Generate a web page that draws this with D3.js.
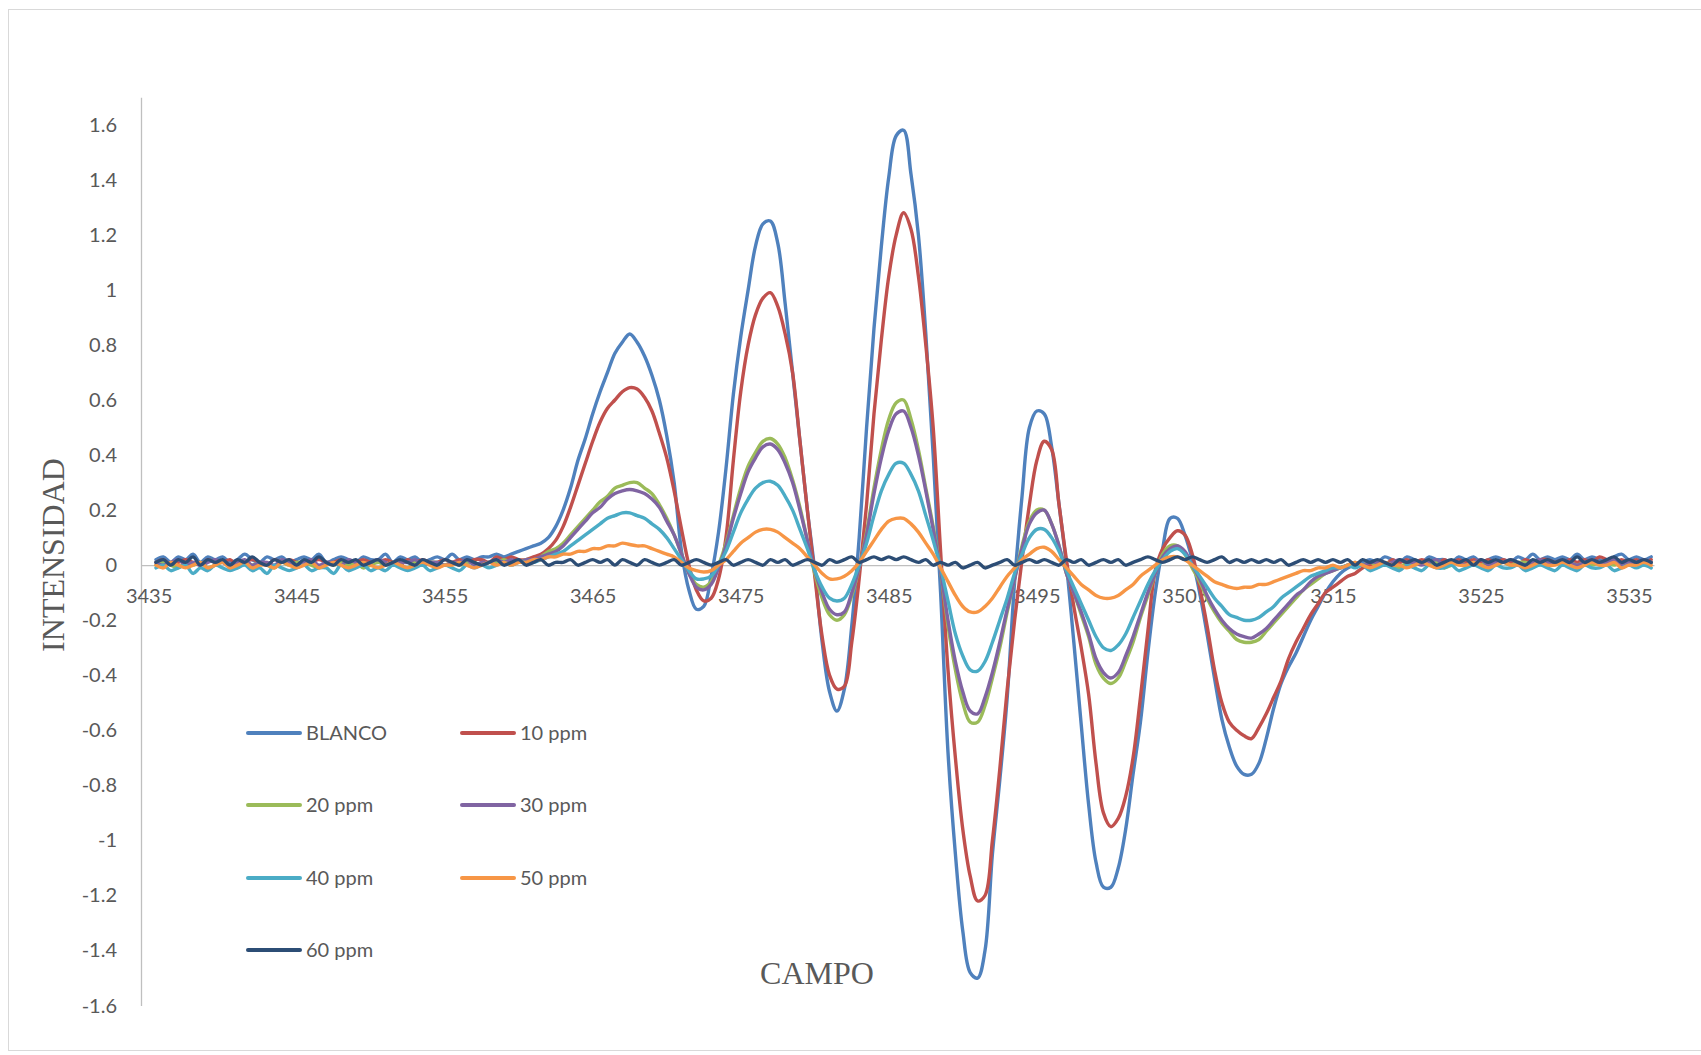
<!DOCTYPE html>
<html><head><meta charset="utf-8">
<script src="https://cdn.jsdelivr.net/npm/d3@7"></script>
<style>body{margin:0;background:#fff}svg{display:block}</style>
</head><body><svg id="c" width="1701" height="1055"></svg>
<script>
// Field grid (G): 3435.5 .. 3536.5 in 0.5 steps, 10 values per row below
const field = d3.range(3435.5, 3536.75, 0.5);
const xTicks = [3435, 3445, 3455, 3465, 3475, 3485, 3495, 3505, 3515, 3525, 3535];
const yTicks = [-1.6, -1.4, -1.2, -1, -0.8, -0.6, -0.4, -0.2, 0, 0.2, 0.4, 0.6, 0.8, 1, 1.2, 1.4, 1.6];
const seriesNames = ["BLANCO", "10 ppm", "20 ppm", "30 ppm", "40 ppm", "50 ppm", "60 ppm"];
const seriesColors = ["#4F81BD", "#C0504D", "#9BBB59", "#8064A2", "#4BACC6", "#F79646", "#2C4D75"];

const blanco = [
 0.02,0.03,0.01,0.03,0.02,0.04,0.01,0.03,0.02,0.03,
 0.01,0.02,0.04,0.02,0.01,0.03,0.02,0.03,0.01,0.02,
 0.03,0.02,0.04,0.01,0.02,0.03,0.02,0.01,0.03,0.02,
 0.02,0.04,0.01,0.03,0.02,0.03,0.01,0.02,0.03,0.02,
 0.04,0.02,0.03,0.02,0.03,0.03,0.04,0.03,0.04,0.05,
 0.06,0.07,0.08,0.10,0.14,0.20,0.28,0.38,0.46,0.55,
 0.63,0.70,0.77,0.81,0.84,0.81,0.76,0.69,0.60,0.47,
 0.30,0.05,-0.09,-0.16,-0.15,-0.04,0.12,0.35,0.62,0.83,
 1.00,1.16,1.24,1.25,1.17,0.95,0.70,0.45,0.20,-0.02,
 -0.28,-0.46,-0.53,-0.45,-0.22,0.10,0.50,0.86,1.16,1.41,
 1.56,1.58,1.42,1.20,0.84,0.40,-0.10,-0.68,-1.05,-1.33,
 -1.48,-1.50,-1.40,-1.05,-0.78,-0.48,-0.06,0.25,0.50,0.56,
 0.55,0.43,0.22,0.00,-0.28,-0.58,-0.87,-1.08,-1.17,-1.17,
 -1.10,-0.96,-0.76,-0.57,-0.32,-0.10,0.06,0.17,0.17,0.11,
 0.02,-0.10,-0.25,-0.41,-0.56,-0.66,-0.73,-0.76,-0.76,-0.72,
 -0.63,-0.52,-0.43,-0.37,-0.32,-0.26,-0.20,-0.15,-0.10,-0.06,
 -0.03,-0.01,0.00,0.01,0.02,0.01,0.03,0.02,0.01,0.03,
 0.02,0.01,0.03,0.02,0.02,0.01,0.03,0.02,0.03,0.01,
 0.02,0.03,0.02,0.01,0.03,0.02,0.04,0.02,0.03,0.02,
 0.03,0.02,0.04,0.02,0.03,0.02,0.01,0.03,0.04,0.02,
 0.03,0.02,0.03];

const ppm10 = [
 0.01,0.02,0.00,0.01,0.02,0.01,0.00,0.02,0.01,0.01,
 0.02,0.00,0.01,0.02,0.01,0.00,0.02,0.01,0.02,0.01,
 0.00,0.01,0.02,0.01,0.01,0.02,0.00,0.01,0.02,0.01,
 0.01,0.02,0.01,0.00,0.02,0.01,0.02,0.01,0.01,0.02,
 0.01,0.02,0.01,0.02,0.02,0.01,0.03,0.02,0.03,0.02,
 0.02,0.03,0.04,0.06,0.09,0.14,0.21,0.29,0.37,0.45,
 0.52,0.57,0.60,0.63,0.645,0.64,0.61,0.56,0.48,0.39,
 0.27,0.13,0.00,-0.09,-0.13,-0.12,-0.05,0.10,0.38,0.63,
 0.80,0.91,0.97,0.99,0.94,0.84,0.70,0.45,0.20,-0.04,
 -0.26,-0.40,-0.45,-0.44,-0.28,-0.05,0.22,0.55,0.82,1.05,
 1.20,1.28,1.22,1.05,0.80,0.50,0.05,-0.38,-0.70,-0.96,
 -1.13,-1.22,-1.20,-1.00,-0.74,-0.45,-0.20,0.02,0.22,0.38,
 0.45,0.42,0.22,0.02,-0.15,-0.30,-0.47,-0.72,-0.90,-0.95,
 -0.92,-0.84,-0.70,-0.48,-0.24,-0.02,0.06,0.10,0.125,0.11,
 0.04,-0.08,-0.22,-0.38,-0.50,-0.57,-0.60,-0.62,-0.63,-0.59,
 -0.54,-0.48,-0.42,-0.34,-0.28,-0.23,-0.18,-0.14,-0.10,-0.08,
 -0.06,-0.04,-0.03,-0.01,0.00,0.01,0.00,0.02,0.01,0.02,
 0.01,0.02,0.01,0.00,0.02,0.01,0.02,0.01,0.02,0.01,
 0.02,0.01,0.02,0.01,0.00,0.02,0.01,0.02,0.02,0.01,
 0.01,0.02,0.01,0.02,0.01,0.03,0.02,0.01,0.02,0.01,
 0.02,0.01,0.02];

const ppm20 = [
 0.00,0.01,0.00,-0.01,0.01,0.00,0.01,-0.01,0.00,0.01,
 0.00,-0.01,0.01,0.00,0.01,0.00,-0.01,0.01,0.00,0.01,
 0.01,0.00,-0.01,0.01,0.00,0.01,0.00,0.01,-0.01,0.00,
 0.01,0.00,0.01,0.00,-0.01,0.01,0.00,0.01,0.01,0.00,
 0.01,0.00,0.01,0.01,0.00,0.01,0.01,0.02,0.01,0.01,
 0.02,0.02,0.03,0.05,0.06,0.08,0.11,0.14,0.17,0.20,
 0.23,0.25,0.28,0.29,0.30,0.30,0.28,0.26,0.22,0.17,
 0.11,0.04,-0.03,-0.07,-0.08,-0.06,0.00,0.08,0.18,0.28,
 0.36,0.41,0.45,0.46,0.44,0.39,0.31,0.21,0.09,-0.03,
 -0.12,-0.18,-0.20,-0.18,-0.11,-0.01,0.12,0.28,0.42,0.53,
 0.59,0.60,0.53,0.42,0.28,0.14,-0.02,-0.22,-0.38,-0.50,
 -0.57,-0.57,-0.51,-0.41,-0.30,-0.17,-0.05,0.07,0.16,0.20,
 0.20,0.15,0.07,-0.03,-0.10,-0.18,-0.26,-0.36,-0.41,-0.43,
 -0.41,-0.35,-0.28,-0.19,-0.11,-0.03,0.04,0.07,0.07,0.04,
 -0.01,-0.06,-0.12,-0.17,-0.21,-0.24,-0.27,-0.28,-0.28,-0.27,
 -0.24,-0.21,-0.18,-0.15,-0.12,-0.09,-0.07,-0.05,-0.03,-0.02,
 -0.01,0.00,0.01,0.00,0.01,0.00,0.01,0.00,-0.01,0.01,
 0.00,0.01,0.00,0.01,-0.01,0.00,0.01,0.00,0.01,0.00,
 0.01,0.00,0.01,0.00,0.01,0.01,0.00,0.01,0.00,0.01,
 0.00,0.01,0.00,0.01,0.00,0.01,0.01,0.00,0.01,0.00,
 0.01,0.00,0.01];

const ppm30 = [
 0.01,0.00,0.01,0.02,0.00,0.01,0.00,0.01,0.02,0.01,
 0.00,0.01,0.02,0.00,0.01,0.01,0.00,0.02,0.01,0.00,
 0.01,0.02,0.00,0.01,0.01,0.00,0.02,0.01,0.00,0.01,
 0.02,0.01,0.00,0.01,0.01,0.02,0.00,0.01,0.01,0.00,
 0.01,0.01,0.02,0.00,0.01,0.01,0.02,0.01,0.02,0.01,
 0.02,0.02,0.03,0.04,0.05,0.07,0.10,0.13,0.16,0.19,
 0.21,0.24,0.26,0.27,0.275,0.27,0.26,0.24,0.21,0.16,
 0.11,0.04,-0.03,-0.08,-0.09,-0.07,-0.01,0.07,0.17,0.26,
 0.34,0.39,0.43,0.44,0.42,0.37,0.30,0.20,0.09,-0.02,
 -0.10,-0.16,-0.18,-0.17,-0.10,-0.01,0.11,0.26,0.39,0.49,
 0.55,0.56,0.50,0.40,0.27,0.13,-0.02,-0.20,-0.35,-0.46,
 -0.53,-0.54,-0.48,-0.39,-0.28,-0.16,-0.05,0.06,0.15,0.19,
 0.20,0.15,0.07,-0.03,-0.10,-0.17,-0.25,-0.34,-0.39,-0.41,
 -0.39,-0.33,-0.26,-0.18,-0.10,-0.03,0.03,0.06,0.07,0.05,
 0.00,-0.05,-0.11,-0.16,-0.20,-0.23,-0.25,-0.26,-0.265,-0.25,
 -0.23,-0.20,-0.17,-0.14,-0.11,-0.09,-0.06,-0.04,-0.03,-0.02,
 -0.01,0.00,0.01,0.00,0.01,0.01,0.00,0.01,0.02,0.01,
 0.01,0.00,0.01,0.02,0.00,0.01,0.01,0.00,0.01,0.02,
 0.00,0.01,0.01,0.02,0.01,0.00,0.01,0.02,0.01,0.01,
 0.02,0.01,0.00,0.01,0.02,0.01,0.01,0.02,0.00,0.01,
 0.01,0.02,0.01];

const ppm40 = [
 -0.01,0.00,-0.02,-0.01,0.00,-0.03,-0.01,-0.02,0.00,-0.01,
 -0.02,-0.01,0.00,-0.02,-0.01,-0.03,0.00,-0.01,-0.02,-0.01,
 0.00,-0.02,-0.01,-0.01,-0.03,0.00,-0.02,-0.01,0.00,-0.02,
 -0.01,-0.02,0.00,-0.01,-0.02,-0.01,0.00,-0.02,-0.01,0.00,
 -0.01,-0.02,0.00,-0.01,0.00,-0.01,0.00,0.01,0.00,0.01,
 0.01,0.01,0.02,0.03,0.04,0.05,0.07,0.09,0.11,0.13,
 0.15,0.17,0.18,0.19,0.19,0.18,0.17,0.15,0.13,0.10,
 0.06,0.02,-0.02,-0.05,-0.05,-0.04,0.00,0.05,0.12,0.19,
 0.24,0.28,0.30,0.305,0.29,0.25,0.20,0.13,0.06,-0.02,
 -0.08,-0.12,-0.13,-0.12,-0.07,0.00,0.08,0.18,0.27,0.33,
 0.37,0.37,0.33,0.27,0.18,0.09,-0.01,-0.13,-0.25,-0.33,
 -0.38,-0.385,-0.35,-0.28,-0.20,-0.12,-0.03,0.04,0.10,0.13,
 0.13,0.10,0.05,-0.02,-0.08,-0.14,-0.20,-0.26,-0.30,-0.31,
 -0.29,-0.25,-0.19,-0.13,-0.07,-0.02,0.02,0.05,0.06,0.04,
 0.00,-0.04,-0.08,-0.12,-0.15,-0.18,-0.19,-0.20,-0.20,-0.19,
 -0.17,-0.15,-0.12,-0.10,-0.08,-0.06,-0.04,-0.03,-0.02,-0.01,
 -0.01,0.00,-0.01,0.00,-0.02,-0.01,0.00,-0.01,-0.02,0.00,
 -0.01,-0.02,0.00,-0.01,-0.01,0.00,-0.02,-0.01,0.00,-0.01,
 -0.02,0.00,-0.01,-0.01,0.00,-0.02,-0.01,0.00,-0.01,-0.02,
 0.00,-0.01,-0.02,0.00,-0.01,-0.01,0.00,-0.02,-0.01,0.00,
 -0.01,0.00,-0.01];

const ppm50 = [
 0.00,-0.01,0.01,0.00,-0.01,0.00,0.01,-0.01,0.00,0.01,
 -0.01,0.00,0.01,-0.01,0.00,0.00,-0.01,0.01,0.00,-0.01,
 0.00,0.01,-0.01,0.00,0.01,0.00,-0.01,0.00,0.01,0.00,
 -0.01,0.00,0.01,0.00,-0.01,0.00,0.01,0.00,-0.01,0.00,
 0.00,0.01,0.00,-0.01,0.00,0.01,0.00,0.01,0.00,0.01,
 0.01,0.02,0.02,0.03,0.03,0.04,0.04,0.05,0.05,0.06,
 0.06,0.07,0.07,0.08,0.075,0.07,0.07,0.06,0.05,0.04,
 0.03,0.01,-0.01,-0.02,-0.025,-0.02,0.00,0.02,0.05,0.08,
 0.10,0.12,0.13,0.13,0.12,0.10,0.08,0.06,0.03,0.00,
 -0.03,-0.05,-0.05,-0.04,-0.02,0.01,0.05,0.09,0.13,0.16,
 0.17,0.17,0.15,0.12,0.08,0.04,-0.01,-0.06,-0.11,-0.15,
 -0.17,-0.17,-0.15,-0.12,-0.08,-0.04,-0.01,0.02,0.04,0.06,
 0.065,0.05,0.02,-0.01,-0.04,-0.07,-0.09,-0.11,-0.12,-0.12,
 -0.11,-0.09,-0.07,-0.04,-0.02,0.00,0.02,0.03,0.03,0.02,
 0.00,-0.02,-0.04,-0.06,-0.07,-0.08,-0.085,-0.08,-0.08,-0.07,
 -0.07,-0.06,-0.05,-0.04,-0.03,-0.02,-0.02,-0.01,-0.01,0.00,
 -0.01,0.00,0.01,0.00,-0.01,0.00,0.01,0.00,0.00,-0.01,
 0.00,0.01,0.00,-0.01,0.00,0.01,0.00,0.00,0.01,0.00,
 -0.01,0.00,0.01,0.00,0.00,-0.01,0.00,0.01,0.00,0.00,
 0.01,0.00,-0.01,0.00,0.01,0.00,0.00,0.01,-0.01,0.00,
 0.00,0.01,0.00];

const ppm60 = [
 0.01,0.02,0.00,0.02,0.01,0.03,0.00,0.02,0.01,0.02,
 0.00,0.02,0.01,0.03,0.01,0.00,0.02,0.01,0.02,0.00,
 0.02,0.01,0.03,0.01,0.00,0.02,0.01,0.02,0.00,0.01,
 0.02,0.00,0.01,0.02,0.01,0.00,0.02,0.01,0.00,0.02,
 0.01,0.00,0.02,0.01,0.00,0.01,0.02,0.00,0.01,0.02,
 0.00,0.01,0.02,0.00,0.01,0.01,0.02,0.00,0.01,0.02,
 0.01,0.02,0.00,0.02,0.01,0.00,0.02,0.01,0.00,0.01,
 0.02,0.00,0.01,0.02,0.01,0.00,0.01,0.02,0.00,0.01,
 0.02,0.01,0.00,0.02,0.01,0.02,0.00,0.01,0.02,0.01,
 0.00,0.02,0.01,0.02,0.03,0.01,0.02,0.03,0.02,0.03,
 0.02,0.03,0.02,0.01,0.02,0.00,0.01,0.00,0.01,-0.01,
 0.00,0.01,-0.01,0.00,0.01,0.02,0.00,0.01,0.02,0.01,
 0.02,0.01,0.00,0.02,0.01,0.02,0.00,0.01,0.02,0.01,
 0.02,0.00,0.01,0.02,0.03,0.02,0.01,0.02,0.03,0.02,
 0.03,0.02,0.01,0.02,0.03,0.01,0.02,0.01,0.02,0.01,
 0.02,0.01,0.02,0.00,0.01,0.02,0.01,0.02,0.01,0.02,
 0.01,0.02,0.00,0.02,0.01,0.02,0.01,0.00,0.02,0.01,
 0.02,0.01,0.02,0.00,0.01,0.02,0.01,0.02,0.00,0.02,
 0.01,0.02,0.01,0.02,0.01,0.00,0.02,0.01,0.02,0.01,
 0.02,0.01,0.03,0.01,0.02,0.01,0.02,0.03,0.01,0.02,
 0.01,0.02,0.01];

const seriesValues = [blanco, ppm10, ppm20, ppm30, ppm40, ppm50, ppm60];

const svg = d3.select("#c");
const TXT = "#595959", AX = "#BFBFBF";

// chart frame
svg.append("rect").attr("x", 8.5).attr("y", 9.5).attr("width", 1700).attr("height", 1041)
  .attr("fill", "#fff").attr("stroke", "#D9D9D9").attr("stroke-width", 1);

const x = d3.scaleLinear().domain([3434.487, 3536.69]).range([141, 1654]);
const y = d3.scaleLinear().domain([-1.6, 1.7]).range([1005.6, 97.2]);

const fmt = d => String(+d.toFixed(1));

// Y axis
const gy = svg.append("g").attr("transform", "translate(141,0)")
  .call(d3.axisLeft(y).tickValues(yTicks).tickSize(0).tickSizeOuter(0).tickPadding(24).tickFormat(fmt));
gy.select(".domain").attr("stroke", AX).attr("stroke-width", 1.3);
gy.selectAll("text").attr("fill", TXT).style("font-family", "Lato, 'Open Sans', sans-serif").style("font-size", "20px");

// X axis at zero
const gx = svg.append("g").attr("transform", `translate(0,${y(0)})`)
  .call(d3.axisBottom(x).tickValues(xTicks).tickSize(0).tickSizeOuter(0).tickPadding(24).tickFormat(d3.format("d")));
gx.select(".domain").attr("stroke", AX).attr("stroke-width", 1.3);
gx.selectAll("text").attr("fill", TXT).style("font-family", "Lato, 'Open Sans', sans-serif").style("font-size", "20px");

// Lines
const line = d3.line().x((d, i) => x(field[i])).y(d => y(d)).curve(d3.curveCatmullRom.alpha(0.5));
svg.append("g").selectAll("path").data(seriesValues).join("path")
  .attr("d", line)
  .attr("fill", "none")
  .attr("stroke", (d, i) => seriesColors[i])
  .attr("stroke-width", 3.4)
  .attr("stroke-linejoin", "round")
  .attr("stroke-linecap", "round");

// Axis titles
svg.append("text").attr("transform", "translate(64,555) rotate(-90)")
  .attr("text-anchor", "middle").attr("fill", TXT)
  .style("font-family", "'Liberation Serif', 'Times New Roman', serif").style("font-size", "32px")
  .text("INTENSIDAD");
svg.append("text").attr("x", 817).attr("y", 984)
  .attr("text-anchor", "middle").attr("fill", TXT)
  .style("font-family", "'Liberation Serif', 'Times New Roman', serif").style("font-size", "32px")
  .text("CAMPO");

// Legend
const legCols = [248, 462];
const legRows = [733, 805, 878, 950];
const leg = svg.append("g").selectAll("g").data(seriesNames).join("g")
  .attr("transform", (d, i) => `translate(${legCols[i % 2]},${legRows[Math.floor(i / 2)]})`);
leg.append("line").attr("x1", 0).attr("x2", 52).attr("y1", 0).attr("y2", 0)
  .attr("stroke", (d, i) => seriesColors[i]).attr("stroke-width", 4).attr("stroke-linecap", "round");
leg.append("text").attr("x", 58).attr("y", 0).attr("dy", "0.35em").attr("fill", TXT)
  .style("font-family", "Lato, 'Open Sans', sans-serif").style("font-size", "20px")
  .text(d => d);
</script>
</body></html>
